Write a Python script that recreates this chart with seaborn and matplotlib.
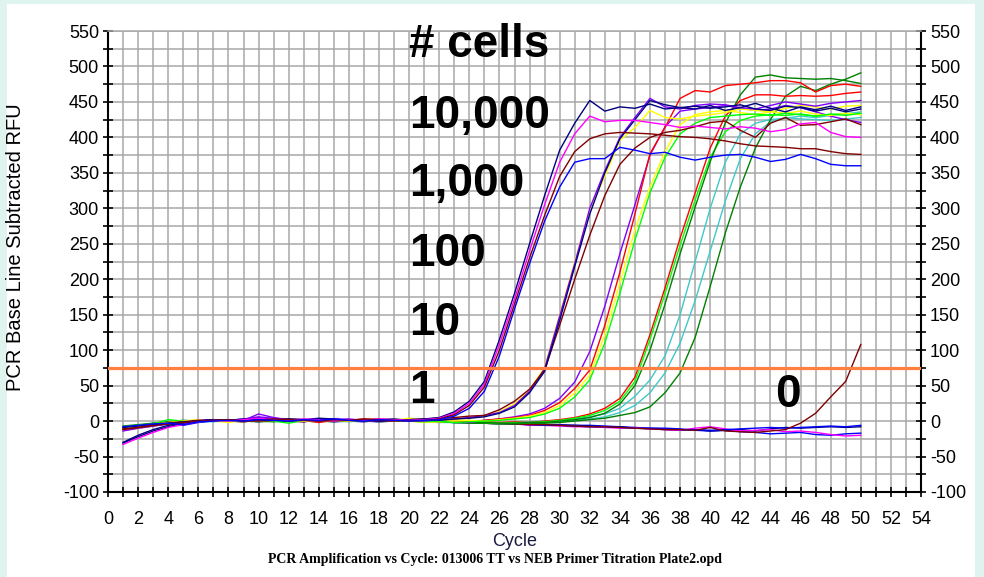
import numpy as np
import pandas as pd
import matplotlib
matplotlib.use("Agg")
import matplotlib.pyplot as plt
from matplotlib.patches import Rectangle
from matplotlib.ticker import MultipleLocator
import seaborn as sns

plt.rcParams["axes.unicode_minus"] = False

cycles = list(range(1, 51))

# ---- 10,000 cells ----
a1_navy = [-30, -20, -12, -6, -3, 0, 2, 1, 3, 2,
           1, 3, 2, 4, 3, 1, 2, 0, 1, 2,
           3, 5, 13, 28, 56, 115, 180, 250, 318, 382,
           420, 452, 437, 443, 441, 447, 440, 442, 440, 445,
           438, 442, 448, 441, 436, 443, 439, 444, 438, 443]
a2_magenta = [-33, -24, -16, -9, -5, -1, 1, 0, 2, 4,
              2, 1, 3, 2, 0, 2, 1, 3, 2, 1,
              2, 4, 11, 25, 52, 108, 172, 240, 305, 365,
              405, 430, 422, 424, 424, 421, 418, 414, 416, 414,
              412, 415, 413, 408, 411, 419, 421, 407, 401, 400]
a3_brown = [-12, -9, -6, -4, -2, 0, 1, 2, 0, 1,
            3, 2, 1, 0, 2, 1, 3, 2, 1, 0,
            1, 3, 9, 22, 48, 100, 165, 230, 290, 345,
            380, 398, 405, 407, 406, 405, 403, 401, 400, 398,
            395, 391, 388, 387, 386, 384, 384, 380, 377, 376]
a4_blue = [-8, -6, -4, -3, -5, -1, 0, 1, 0, 2,
           1, 0, 2, 1, 3, 1, 0, 2, 1, 0,
           1, 2, 7, 18, 42, 92, 158, 222, 282, 330,
           365, 370, 370, 386, 382, 377, 379, 372, 368, 372,
           375, 376, 372, 366, 369, 376, 370, 362, 360, 360]

# ---- 1,000 cells ----
b1_yellow = [-10, -8, -5, -2, 0, 2, 0, -2, 1, 0,
             2, 1, 0, 1, 2, 0, 1, 2, 1, 4,
             2, 1, 2, 4, 7, 13, 24, 44, 76, 150,
             225, 298, 345, 396, 414, 438, 428, 426, 430, 432,
             435, 440, 438, 436, 441, 445, 443, 440, 444, 445]
b2_purple = [-14, -10, -7, -4, -2, 1, 2, 1, 3, 6,
             4, 2, 1, 0, 2, 3, 1, 0, 2, 1,
             0, 2, 3, 5, 8, 12, 22, 42, 74, 148,
             222, 300, 353, 400, 428, 455, 443, 440, 445, 447,
             446, 442, 440, 445, 450, 447, 444, 448, 450, 452]
b3_brown = [-11, -9, -6, -3, -1, 1, 0, 2, 1, 0,
            1, 3, 2, 1, 0, 2, 1, 0, 1, 2,
            3, 4, 5, 7, 8, 16, 28, 45, 72, 135,
            200, 262, 318, 362, 385, 400, 407, 410, 415, 421,
            423, 410, 400, 420, 428, 417, 418, 422, 426, 418]
b4_navy = [-9, -7, -5, -3, -1, 0, 2, 1, 0, 1,
           2, 0, 1, 3, 2, 1, 0, 2, 3, 1,
           2, 1, 3, 4, 6, 11, 20, 40, 70, 142,
           218, 292, 350, 398, 425, 452, 446, 442, 444, 441,
           443, 446, 440, 438, 444, 442, 437, 441, 436, 440]

# ---- 100 cells ----
c1_purple = [-12, -9, -6, -3, -1, 1, 0, 2, 1, 10,
             5, 2, 0, 1, 3, 2, 1, 0, 2, 1,
             1, 0, -1, -2, 1, 3, 6, 10, 18, 32,
             55, 98, 162, 236, 305, 375, 415, 437, 440, 442,
             445, 441, 438, 440, 445, 442, 436, 430, 425, 421]
c2_red = [-10, -7, -4, -2, 0, 1, 2, 0, -1, 1,
          0, 2, 1, -2, 1, 0, 2, 3, 1, 0,
          1, 0, -1, 0, 1, 3, 5, 8, 15, 26,
          46, 72, 135, 210, 292, 377, 414, 455, 466, 464,
          473, 475, 477, 480, 480, 477, 464, 473, 475, 472]
c3_yellow = [-13, -10, -6, -3, -1, 0, 1, 2, 0, 1,
             1, 2, 0, 1, 0, 1, 2, 1, 3, 0,
             -2, -1, 0, 1, 0, 2, 4, 7, 12, 22,
             40, 65, 122, 195, 270, 330, 380, 418, 432, 436,
             438, 435, 432, 436, 434, 437, 433, 431, 434, 432]
c4_lime = [-8, -6, -4, 2, 0, -1, 1, 0, 2, 1,
           0, -3, 1, 2, 0, 1, 0, 2, 1, 0,
           -1, 0, -2, -1, 0, 1, 3, 5, 10, 18,
           34, 58, 110, 180, 255, 322, 372, 405, 420, 428,
           430, 432, 433, 431, 434, 432, 430, 433, 431, 434]

# ---- 10 cells ----
d1_red = [-9, -7, -5, -2, 0, 1, 0, 1, 2, 0,
          1, 0, 2, 1, 0, 1, 3, 1, 0, 1,
          0, -1, 0, -2, -1, -2, -1, -2, 0, 2,
          5, 10, 18, 32, 62, 122, 188, 258, 322, 385,
          430, 452, 460, 460, 458, 459, 458, 459, 462, 464]
d2_lime = [-11, -8, -5, -3, -1, 0, 1, 0, -1, 1,
           2, 1, 0, -1, 1, 2, 0, 1, 2, 1,
           0, -1, -2, -1, -2, -3, -2, -2, -1, 1,
           4, 8, 15, 28, 56, 115, 180, 248, 312, 372,
           408, 424, 430, 432, 431, 433, 430, 432, 434, 433]
d3_green = [-7, -5, -3, -1, 1, 0, 2, 1, 0, -1,
            0, 1, 2, 0, -1, 1, 0, 2, 1, 0,
            0, 1, -1, -2, -2, -3, -3, -2, -2, 0,
            2, 5, 11, 24, 50, 100, 165, 236, 302, 366,
            420, 460, 485, 488, 484, 483, 482, 483, 480, 476]

# ---- 1 cell ----
e1_cyan = [-11, -8, -5, -2, 0, 1, 0, 2, 1, 0,
           2, 0, 1, 2, 0, -1, 1, 0, 2, 1,
           0, -1, -2, -2, -3, -3, -2, -1, 0, 1,
           3, 6, 10, 18, 35, 58, 92, 150, 225, 300,
           365, 405, 420, 425, 427, 430, 428, 431, 433, 436]
e2_cyan = [-8, -6, -3, -1, 1, 0, -1, 1, 0, 2,
           1, -1, 0, 1, 2, 0, 1, -1, 0, 1,
           -1, -2, -2, -3, -3, -4, -3, -3, -2, -1,
           1, 3, 6, 12, 22, 40, 68, 110, 170, 240,
           310, 370, 405, 422, 428, 426, 425, 424, 426, 428]
e3_green = [-10, -7, -5, -2, 0, 1, 2, 0, 1, 0,
            -1, 1, 0, 2, 1, 0, 1, 2, 0, 1,
            0, -1, -2, -3, -3, -4, -4, -3, -3, -2,
            0, 2, 4, 8, 12, 20, 40, 68, 118, 190,
            265, 330, 385, 425, 458, 472, 466, 475, 482, 491]

# ---- 0 cells ----
z1_blue = [-10, -8, -5, -3, -6, -2, 0, 1, -1, 2,
           0, 1, -1, 2, 0, 1, 0, -1, 1, 0,
           1, 0, -1, -1, -2, -3, -3, -4, -5, -5,
           -6, -6, -7, -8, -9, -10, -10, -11, -13, -14,
           -13, -15, -16, -18, -17, -16, -19, -20, -18, -17]
z2_navy = [-31, -22, -14, -8, -3, 0, 1, 0, 2, 5,
           2, 0, 1, 3, 2, 0, -1, 1, 0, 1,
           0, -1, -2, -2, -3, -3, -4, -4, -5, -6,
           -6, -7, -8, -8, -10, -11, -12, -13, -12, -14,
           -13, -12, -14, -11, -9, -10, -9, -8, -9, -8]
z3_magenta = [-12, -9, -6, -4, -2, 0, 1, 0, 2, 1,
              0, 1, 2, 0, 1, 0, 2, 1, 0, 1,
              0, -1, -1, -2, -3, -4, -4, -6, -6, -7,
              -8, -8, -9, -10, -9, -11, -12, -13, -10, -8,
              -11, -14, -13, -12, -15, -14, -16, -19, -21, -20]
z4_brown = [-13, -10, -7, -4, -2, 0, 1, 2, 1, 0,
            1, 0, -1, 2, 1, 0, 1, -1, 0, 1,
            0, -1, -2, -2, -3, -4, -4, -5, -5, -6,
            -7, -8, -8, -9, -10, -11, -12, -12, -13, -9,
            -14, -15, -16, -14, -12, -3, 11, 34, 56, 108]
z5_blue = [-9, -7, -4, -2, -1, 0, 2, 0, 1, -1,
           1, 2, 0, 1, -1, 0, 1, 2, 0, 1,
           -1, 0, -2, -2, -3, -3, -4, -5, -6, -6,
           -7, -8, -8, -9, -10, -10, -11, -12, -12, -13,
           -12, -11, -10, -9, -10, -9, -8, -7, -8, -6]

threshold = 75
cell_labels = ["# cells", "10,000", "1,000", "100", "10", "1"]
x_ticks = list(range(0, 55, 2))
y_ticks = list(range(-100, 551, 50))

wells = [
    ("z1", "#0000ff", z1_blue), ("z2", "#000080", z2_navy),
    ("z3", "#ff00ff", z3_magenta), ("z5", "#0000ff", z5_blue),
    ("z4", "#800000", z4_brown),
    ("e1", "#40c8c8", e1_cyan), ("e2", "#40c8c8", e2_cyan), ("e3", "#008000", e3_green),
    ("d1", "#ff0000", d1_red), ("d2", "#00ff00", d2_lime), ("d3", "#008000", d3_green),
    ("c1", "#8000ff", c1_purple), ("c2", "#ff0000", c2_red),
    ("c3", "#ffff00", c3_yellow), ("c4", "#00ff00", c4_lime),
    ("b1", "#ffff00", b1_yellow), ("b2", "#8000ff", b2_purple),
    ("b3", "#800000", b3_brown), ("b4", "#000080", b4_navy),
    ("a1", "#000080", a1_navy), ("a2", "#ff00ff", a2_magenta),
    ("a3", "#800000", a3_brown), ("a4", "#0000ff", a4_blue),
]

rows = []
for name, col, vals in wells:
    for c, v in zip(cycles, vals):
        rows.append({"well": name, "cycle": c, "rfu": v})
df = pd.DataFrame(rows)
palette = {name: col for name, col, _ in wells}

W, H = 984, 577
fig = plt.figure(figsize=(W / 100, H / 100), dpi=100)
fig.patch.set_facecolor("#dff4ee")
fig.patches.append(Rectangle((7 / W, 0), (975 - 7) / W, (577 - 4) / H,
                             transform=fig.transFigure, facecolor="white",
                             edgecolor="none", zorder=-10))

ax = fig.add_axes([108 / W, 85 / H, 813 / W, 461 / H])
ax.set_zorder(1)
ax.set_facecolor("white")

sns.lineplot(data=df, x="cycle", y="rfu", hue="well", palette=palette,
             hue_order=[w[0] for w in wells], estimator=None, sort=False,
             legend=False, linewidth=1.0, ax=ax, zorder=2)

ax.axhline(threshold, color="#ff8040", lw=2.3, zorder=3)

ax.set_xlim(0, 54)
ax.set_ylim(-100, 550)
ax.set_xticks(x_ticks)
ax.set_yticks(y_ticks)
ax.xaxis.set_minor_locator(MultipleLocator(1))
ax.yaxis.set_minor_locator(MultipleLocator(25))
ax.grid(True, which="both", color="#a8a8a8", lw=1.1, zorder=0)
ax.set_axisbelow(True)

ax.tick_params(axis="both", which="both", direction="inout", length=7,
               width=1.2, color="black", labelsize=13)
ax.tick_params(axis="y", which="both", right=True, labelright=True, pad=3)
ax.tick_params(axis="x", which="both", pad=10)
for lab in ax.get_xticklabels() + ax.get_yticklabels():
    lab.set_fontfamily("Liberation Sans")
for t in ax.yaxis.get_major_ticks():
    t.label2.set_fontfamily("Liberation Sans")
    t.label2.set_fontsize(13)

for side in ("left", "right", "bottom"):
    ax.spines[side].set_color("black")
    ax.spines[side].set_linewidth(1.5)
ax.spines["top"].set_color("#a8a8a8")
ax.spines["top"].set_linewidth(1.1)

ax.set_xlabel("Cycle", family="Liberation Sans", fontsize=13, color="#1a1a40")
ax.xaxis.set_label_coords(0.5, -(541 - 492) / 461)
ax.xaxis.label.set_verticalalignment("center")
ax.set_ylabel("PCR Base Line Subtracted RFU", family="Liberation Sans", fontsize=14.5)
ax.yaxis.set_label_coords(-(108 - 16) / 813, (492 - 247) / 461)
ax.yaxis.label.set_verticalalignment("center")

fig.text(495 / W, 1 - 560 / H,
         "PCR Amplification vs Cycle: 013006 TT vs NEB Primer Titration Plate2.opd",
         ha="center", va="center", fontsize=10, family="Liberation Serif",
         weight="bold", color="black")

ann_y = [513, 413, 317, 218, 121, 25]
for txt, yv in zip(cell_labels, ann_y):
    ax.text(20, yv, txt, ha="left", va="baseline", fontsize=33,
            family="Liberation Sans", weight="bold", color="black", zorder=5)
ax.text(44.3, 20, "0", ha="left", va="baseline", fontsize=33,
        family="Liberation Sans", weight="bold", color="black", zorder=5)

fig.savefig("out.png", dpi=100, facecolor=fig.get_facecolor())
